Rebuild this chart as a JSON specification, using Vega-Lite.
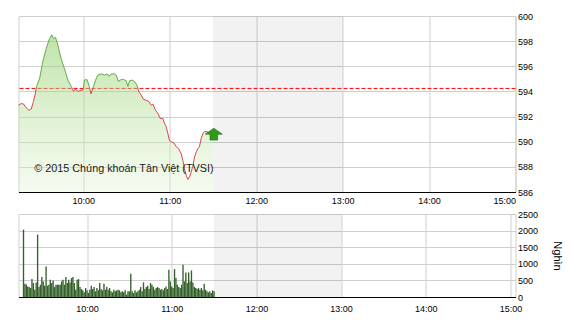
{
  "$schema": "https://vega.github.io/schema/vega-lite/v6.json",
  "padding": {"left": 15.5, "top": 11, "right": 0, "bottom": 0},
  "background": "white",
  "spacing": 22,
  "bounds": "flush",
  "config": {
    "view": {"stroke": "#cfcfcf", "strokeWidth": 1},
    "axis": {
      "labelFont": "Liberation Sans",
      "labelFontSize": 9,
      "labelColor": "#000000",
      "labelOverlap": false,
      "gridColor": "#cfcfcf",
      "gridWidth": 1,
      "ticks": false,
      "tickSize": 0,
      "domain": false,
      "titleFont": "Liberation Sans",
      "titleFontWeight": "normal",
      "titleColor": "#000000"
    }
  },
  "datasets": {
    "price": [
      {"t": "09:15:00", "price": 592.9, "seg": 1, "side": "below"},
      {"t": "09:16:54", "price": 593.04, "seg": 1, "side": "below"},
      {"t": "09:18:30", "price": 593.0, "seg": 1, "side": "below"},
      {"t": "09:20:18", "price": 592.7, "seg": 1, "side": "below"},
      {"t": "09:22:12", "price": 592.5, "seg": 1, "side": "below"},
      {"t": "09:23:48", "price": 592.6, "seg": 1, "side": "below"},
      {"t": "09:25:24", "price": 593.2, "seg": 1, "side": "below"},
      {"t": "09:26:36", "price": 593.8, "seg": 1, "side": "below"},
      {"t": "09:27:20", "price": 594.24, "seg": 1, "side": "below"},
      {"t": "09:27:20", "price": 594.24, "seg": 2, "side": "above"},
      {"t": "09:27:48", "price": 594.5, "seg": 2, "side": "above"},
      {"t": "09:29:36", "price": 595.0, "seg": 2, "side": "above"},
      {"t": "09:31:54", "price": 596.4, "seg": 2, "side": "above"},
      {"t": "09:34:12", "price": 597.4, "seg": 2, "side": "above"},
      {"t": "09:36:30", "price": 598.2, "seg": 2, "side": "above"},
      {"t": "09:38:12", "price": 598.5, "seg": 2, "side": "above"},
      {"t": "09:39:18", "price": 598.2, "seg": 2, "side": "above"},
      {"t": "09:40:42", "price": 598.3, "seg": 2, "side": "above"},
      {"t": "09:42:18", "price": 597.7, "seg": 2, "side": "above"},
      {"t": "09:44:36", "price": 596.6, "seg": 2, "side": "above"},
      {"t": "09:46:54", "price": 595.8, "seg": 2, "side": "above"},
      {"t": "09:49:18", "price": 594.9, "seg": 2, "side": "above"},
      {"t": "09:51:36", "price": 594.4, "seg": 2, "side": "above"},
      {"t": "09:52:20", "price": 594.24, "seg": 2, "side": "above"},
      {"t": "09:52:20", "price": 594.24, "seg": 3, "side": "below"},
      {"t": "09:53:12", "price": 594.0, "seg": 3, "side": "below"},
      {"t": "09:54:36", "price": 594.2, "seg": 3, "side": "below"},
      {"t": "09:56:12", "price": 594.0, "seg": 3, "side": "below"},
      {"t": "09:58:30", "price": 594.1, "seg": 3, "side": "below"},
      {"t": "09:59:42", "price": 594.1, "seg": 3, "side": "below"},
      {"t": "10:00:00", "price": 594.24, "seg": 3, "side": "below"},
      {"t": "10:00:00", "price": 594.24, "seg": 4, "side": "above"},
      {"t": "10:00:48", "price": 594.9, "seg": 4, "side": "above"},
      {"t": "10:02:30", "price": 594.95, "seg": 4, "side": "above"},
      {"t": "10:03:54", "price": 594.5, "seg": 4, "side": "above"},
      {"t": "10:04:25", "price": 594.24, "seg": 4, "side": "above"},
      {"t": "10:04:25", "price": 594.24, "seg": 5, "side": "below"},
      {"t": "10:05:18", "price": 593.8, "seg": 5, "side": "below"},
      {"t": "10:06:30", "price": 594.24, "seg": 5, "side": "below"},
      {"t": "10:06:30", "price": 594.24, "seg": 6, "side": "above"},
      {"t": "10:07:06", "price": 594.4, "seg": 6, "side": "above"},
      {"t": "10:08:30", "price": 594.9, "seg": 6, "side": "above"},
      {"t": "10:10:06", "price": 595.3, "seg": 6, "side": "above"},
      {"t": "10:12:24", "price": 595.4, "seg": 6, "side": "above"},
      {"t": "10:14:42", "price": 595.3, "seg": 6, "side": "above"},
      {"t": "10:16:24", "price": 595.4, "seg": 6, "side": "above"},
      {"t": "10:17:48", "price": 595.2, "seg": 6, "side": "above"},
      {"t": "10:19:24", "price": 595.4, "seg": 6, "side": "above"},
      {"t": "10:21:36", "price": 595.4, "seg": 6, "side": "above"},
      {"t": "10:22:48", "price": 595.3, "seg": 6, "side": "above"},
      {"t": "10:24:24", "price": 594.8, "seg": 6, "side": "above"},
      {"t": "10:26:18", "price": 594.95, "seg": 6, "side": "above"},
      {"t": "10:27:54", "price": 594.95, "seg": 6, "side": "above"},
      {"t": "10:29:48", "price": 594.85, "seg": 6, "side": "above"},
      {"t": "10:30:54", "price": 594.4, "seg": 6, "side": "above"},
      {"t": "10:32:06", "price": 594.85, "seg": 6, "side": "above"},
      {"t": "10:33:54", "price": 594.9, "seg": 6, "side": "above"},
      {"t": "10:35:30", "price": 594.8, "seg": 6, "side": "above"},
      {"t": "10:37:12", "price": 594.5, "seg": 6, "side": "above"},
      {"t": "10:37:55", "price": 594.24, "seg": 6, "side": "above"},
      {"t": "10:37:55", "price": 594.24, "seg": 7, "side": "below"},
      {"t": "10:38:36", "price": 593.97, "seg": 7, "side": "below"},
      {"t": "10:40:12", "price": 593.7, "seg": 7, "side": "below"},
      {"t": "10:41:48", "price": 593.36, "seg": 7, "side": "below"},
      {"t": "10:43:36", "price": 593.3, "seg": 7, "side": "below"},
      {"t": "10:45:30", "price": 593.2, "seg": 7, "side": "below"},
      {"t": "10:47:06", "price": 592.9, "seg": 7, "side": "below"},
      {"t": "10:48:18", "price": 593.0, "seg": 7, "side": "below"},
      {"t": "10:50:06", "price": 592.5, "seg": 7, "side": "below"},
      {"t": "10:51:48", "price": 592.25, "seg": 7, "side": "below"},
      {"t": "10:53:24", "price": 591.85, "seg": 7, "side": "below"},
      {"t": "10:55:12", "price": 591.85, "seg": 7, "side": "below"},
      {"t": "10:56:24", "price": 591.45, "seg": 7, "side": "below"},
      {"t": "10:57:30", "price": 591.2, "seg": 7, "side": "below"},
      {"t": "10:58:42", "price": 590.65, "seg": 7, "side": "below"},
      {"t": "10:59:48", "price": 590.1, "seg": 7, "side": "below"},
      {"t": "11:01:00", "price": 590.0, "seg": 7, "side": "below"},
      {"t": "11:02:54", "price": 589.9, "seg": 7, "side": "below"},
      {"t": "11:04:30", "price": 589.6, "seg": 7, "side": "below"},
      {"t": "11:06:06", "price": 589.45, "seg": 7, "side": "below"},
      {"t": "11:07:54", "price": 589.06, "seg": 7, "side": "below"},
      {"t": "11:09:06", "price": 588.5, "seg": 7, "side": "below"},
      {"t": "11:10:12", "price": 587.86, "seg": 7, "side": "below"},
      {"t": "11:11:24", "price": 587.33, "seg": 7, "side": "below"},
      {"t": "11:12:36", "price": 587.0, "seg": 7, "side": "below"},
      {"t": "11:13:42", "price": 587.2, "seg": 7, "side": "below"},
      {"t": "11:14:54", "price": 587.6, "seg": 7, "side": "below"},
      {"t": "11:16:06", "price": 588.1, "seg": 7, "side": "below"},
      {"t": "11:17:12", "price": 588.8, "seg": 7, "side": "below"},
      {"t": "11:18:24", "price": 589.2, "seg": 7, "side": "below"},
      {"t": "11:19:30", "price": 589.46, "seg": 7, "side": "below"},
      {"t": "11:20:36", "price": 589.6, "seg": 7, "side": "below"},
      {"t": "11:21:48", "price": 590.25, "seg": 7, "side": "below"},
      {"t": "11:23:00", "price": 590.65, "seg": 7, "side": "below"},
      {"t": "11:24:06", "price": 590.8, "seg": 7, "side": "below"},
      {"t": "11:26:00", "price": 590.8, "seg": 7, "side": "below"},
      {"t": "11:27:36", "price": 590.7, "seg": 7, "side": "below"},
      {"t": "11:29:54", "price": 590.65, "seg": 7, "side": "below"}
    ],
    "vol": [
      {"t": "09:15:00", "v": 2030}, {"t": "09:16:00", "v": 400}, {"t": "09:17:00", "v": 380}, {"t": "09:18:00", "v": 320},
      {"t": "09:19:00", "v": 300}, {"t": "09:20:00", "v": 270}, {"t": "09:21:00", "v": 540}, {"t": "09:22:00", "v": 420},
      {"t": "09:23:00", "v": 220}, {"t": "09:24:00", "v": 440}, {"t": "09:25:00", "v": 1880}, {"t": "09:26:00", "v": 300},
      {"t": "09:27:00", "v": 370}, {"t": "09:28:00", "v": 600}, {"t": "09:29:00", "v": 470}, {"t": "09:30:00", "v": 340},
      {"t": "09:31:00", "v": 920}, {"t": "09:32:00", "v": 340}, {"t": "09:33:00", "v": 370}, {"t": "09:34:00", "v": 520},
      {"t": "09:35:00", "v": 420}, {"t": "09:36:00", "v": 500}, {"t": "09:37:00", "v": 300}, {"t": "09:38:00", "v": 370},
      {"t": "09:39:00", "v": 370}, {"t": "09:40:00", "v": 370}, {"t": "09:41:00", "v": 370}, {"t": "09:42:00", "v": 470},
      {"t": "09:43:00", "v": 520}, {"t": "09:44:00", "v": 370}, {"t": "09:45:00", "v": 600}, {"t": "09:46:00", "v": 420},
      {"t": "09:47:00", "v": 520}, {"t": "09:48:00", "v": 440}, {"t": "09:49:00", "v": 570}, {"t": "09:50:00", "v": 600},
      {"t": "09:51:00", "v": 420}, {"t": "09:52:00", "v": 220}, {"t": "09:53:00", "v": 520}, {"t": "09:54:00", "v": 540},
      {"t": "09:55:00", "v": 300}, {"t": "09:56:00", "v": 240}, {"t": "09:57:00", "v": 200}, {"t": "09:58:00", "v": 140},
      {"t": "09:59:00", "v": 270}, {"t": "10:00:00", "v": 200}, {"t": "10:01:00", "v": 120}, {"t": "10:02:00", "v": 220},
      {"t": "10:03:00", "v": 340}, {"t": "10:04:00", "v": 240}, {"t": "10:05:00", "v": 300}, {"t": "10:06:00", "v": 170},
      {"t": "10:07:00", "v": 270}, {"t": "10:08:00", "v": 200}, {"t": "10:09:00", "v": 420}, {"t": "10:10:00", "v": 240},
      {"t": "10:11:00", "v": 200}, {"t": "10:12:00", "v": 400}, {"t": "10:13:00", "v": 220}, {"t": "10:14:00", "v": 300},
      {"t": "10:15:00", "v": 220}, {"t": "10:16:00", "v": 270}, {"t": "10:17:00", "v": 170}, {"t": "10:18:00", "v": 140},
      {"t": "10:19:00", "v": 220}, {"t": "10:20:00", "v": 170}, {"t": "10:21:00", "v": 200}, {"t": "10:22:00", "v": 220},
      {"t": "10:23:00", "v": 200}, {"t": "10:24:00", "v": 140}, {"t": "10:25:00", "v": 170}, {"t": "10:26:00", "v": 140},
      {"t": "10:27:00", "v": 200}, {"t": "10:28:00", "v": 70}, {"t": "10:29:00", "v": 170}, {"t": "10:30:00", "v": 170},
      {"t": "10:31:00", "v": 700}, {"t": "10:32:00", "v": 170}, {"t": "10:33:00", "v": 120}, {"t": "10:34:00", "v": 200},
      {"t": "10:35:00", "v": 140}, {"t": "10:36:00", "v": 170}, {"t": "10:37:00", "v": 220}, {"t": "10:38:00", "v": 300},
      {"t": "10:39:00", "v": 170}, {"t": "10:40:00", "v": 440}, {"t": "10:41:00", "v": 240}, {"t": "10:42:00", "v": 300},
      {"t": "10:43:00", "v": 340}, {"t": "10:44:00", "v": 240}, {"t": "10:45:00", "v": 420}, {"t": "10:46:00", "v": 370},
      {"t": "10:47:00", "v": 300}, {"t": "10:48:00", "v": 220}, {"t": "10:49:00", "v": 270}, {"t": "10:50:00", "v": 300},
      {"t": "10:51:00", "v": 270}, {"t": "10:52:00", "v": 220}, {"t": "10:53:00", "v": 240}, {"t": "10:54:00", "v": 200},
      {"t": "10:55:00", "v": 270}, {"t": "10:56:00", "v": 320}, {"t": "10:57:00", "v": 240}, {"t": "10:58:00", "v": 820},
      {"t": "10:59:00", "v": 470}, {"t": "11:00:00", "v": 320}, {"t": "11:01:00", "v": 270}, {"t": "11:02:00", "v": 840},
      {"t": "11:03:00", "v": 570}, {"t": "11:04:00", "v": 370}, {"t": "11:05:00", "v": 300}, {"t": "11:06:00", "v": 270},
      {"t": "11:07:00", "v": 370}, {"t": "11:08:00", "v": 970}, {"t": "11:09:00", "v": 470}, {"t": "11:10:00", "v": 740},
      {"t": "11:11:00", "v": 420}, {"t": "11:12:00", "v": 740}, {"t": "11:13:00", "v": 470}, {"t": "11:14:00", "v": 800},
      {"t": "11:15:00", "v": 440}, {"t": "11:16:00", "v": 300}, {"t": "11:17:00", "v": 270}, {"t": "11:18:00", "v": 240},
      {"t": "11:19:00", "v": 270}, {"t": "11:20:00", "v": 220}, {"t": "11:21:00", "v": 270}, {"t": "11:22:00", "v": 200},
      {"t": "11:23:00", "v": 400}, {"t": "11:24:00", "v": 220}, {"t": "11:25:00", "v": 170}, {"t": "11:26:00", "v": 140},
      {"t": "11:27:00", "v": 170}, {"t": "11:28:00", "v": 120}, {"t": "11:29:00", "v": 200}, {"t": "11:30:00", "v": 170}
    ]
  },
  "vconcat": [
    {
      "width": 497,
      "height": 176,
      "data": {"name": "price", "format": {"parse": {"t": "date:'%H:%M:%S'"}}},
      "encoding": {
        "y": {
          "field": "price",
          "type": "quantitative",
          "scale": {"domain": [586, 600], "zero": false, "nice": false},
          "axis": {
            "orient": "right",
            "title": null,
            "values": [586, 588, 590, 592, 594, 596, 598, 600],
            "labelPadding": 2,
            "labelOverlap": false,
            "grid": true
          }
        }
      },
      "layer": [
        {
          "data": {"values": [{"label": "lunch"}]},
          "mark": {"type": "rect", "fill": "#000000", "opacity": 0.05},
          "encoding": {
            "x": {
              "datum": {"year": 1900, "month": 1, "date": 1, "hours": 11, "minutes": 30},
              "type": "temporal",
              "scale": {"domain": [
                {"year": 1900, "month": 1, "date": 1, "hours": 9, "minutes": 15},
                {"year": 1900, "month": 1, "date": 1, "hours": 15, "minutes": 0}
              ]},
              "axis": {
                "title": null,
                "format": "%H:%M",
                "values": [
                  {"year": 1900, "month": 1, "date": 1, "hours": 10},
                  {"year": 1900, "month": 1, "date": 1, "hours": 11},
                  {"year": 1900, "month": 1, "date": 1, "hours": 12},
                  {"year": 1900, "month": 1, "date": 1, "hours": 13},
                  {"year": 1900, "month": 1, "date": 1, "hours": 14},
                  {"year": 1900, "month": 1, "date": 1, "hours": 15}
                ],
                "domain": true,
                "domainColor": "#000000",
                "domainWidth": 1,
                "labelFlush": true,
                "labelPadding": 4,
                "grid": true
              }
            },
            "x2": {"datum": {"year": 1900, "month": 1, "date": 1, "hours": 13, "minutes": 0}},
            "y": null
          }
        },
        {
          "data": {"values": [{"price": 594.24}]},
          "mark": {"type": "rule", "color": "#ff0000", "strokeWidth": 1, "strokeDash": [4, 2]},
          "encoding": {}
        },
        {
          "mark": {
            "type": "area",
            "fill": {
              "gradient": "linear",
              "x1": 0, "y1": 0, "x2": 0, "y2": 1,
              "stops": [
                {"offset": 0, "color": "rgba(140,204,100,0.55)"},
                {"offset": 1, "color": "rgba(225,242,210,0.35)"}
              ]
            }
          },
          "encoding": {
            "x": {"field": "t", "type": "temporal"},
            "y2": {"datum": 586}
          }
        },
        {
          "mark": {"type": "line", "strokeWidth": 1},
          "encoding": {
            "x": {"field": "t", "type": "temporal"},
            "detail": {"field": "seg", "type": "nominal"},
            "color": {
              "field": "side",
              "type": "nominal",
              "scale": {"domain": ["above", "below"], "range": ["#62ad45", "#d9474a"]},
              "legend": null
            }
          }
        },
        {
          "data": {"values": [{"t": "09:26:00", "price": 587.8, "label": "© 2015 Chúng khoán Tân Việt (TVSI)"}], "format": {"parse": {"t": "date:'%H:%M:%S'"}}},
          "mark": {"type": "text", "align": "left", "baseline": "middle", "font": "Liberation Sans", "fontSize": 10.8, "color": "#1a1a1a"},
          "encoding": {
            "x": {"field": "t", "type": "temporal"},
            "text": {"field": "label"}
          }
        },
        {
          "data": {"values": [{"t": "11:30:36", "price": 590.6}], "format": {"parse": {"t": "date:'%H:%M:%S'"}}},
          "mark": {
            "type": "point",
            "shape": "M0,-0.7 L1,0 L0.45,0 L0.45,0.7 L-0.45,0.7 L-0.45,0 L-1,0 Z",
            "size": 289,
            "filled": true,
            "fill": "#2f9a1c",
            "stroke": "#1d6a10",
            "strokeWidth": 0.6,
            "opacity": 1
          },
          "encoding": {
            "x": {"field": "t", "type": "temporal"}
          }
        }
      ]
    },
    {
      "width": 497,
      "height": 83,
      "data": {"name": "vol", "format": {"parse": {"t": "date:'%H:%M:%S'"}}},
      "layer": [
        {
          "data": {"values": [{"label": "lunch"}]},
          "mark": {"type": "rect", "fill": "#000000", "opacity": 0.05},
          "encoding": {
            "x": {
              "datum": {"year": 1900, "month": 1, "date": 1, "hours": 11, "minutes": 30},
              "type": "temporal",
              "scale": {"domain": [
                {"year": 1900, "month": 1, "date": 1, "hours": 9, "minutes": 15},
                {"year": 1900, "month": 1, "date": 1, "hours": 15, "minutes": 0}
              ]},
              "axis": {
                "title": null,
                "format": "%H:%M",
                "values": [
                  {"year": 1900, "month": 1, "date": 1, "hours": 10},
                  {"year": 1900, "month": 1, "date": 1, "hours": 11},
                  {"year": 1900, "month": 1, "date": 1, "hours": 12},
                  {"year": 1900, "month": 1, "date": 1, "hours": 13},
                  {"year": 1900, "month": 1, "date": 1, "hours": 14},
                  {"year": 1900, "month": 1, "date": 1, "hours": 15}
                ],
                "domain": true,
                "domainColor": "#000000",
                "domainWidth": 1,
                "labelFlush": true,
                "labelPadding": 7,
                "grid": true
              }
            },
            "x2": {"datum": {"year": 1900, "month": 1, "date": 1, "hours": 13, "minutes": 0}}
          }
        },
        {
          "mark": {"type": "bar", "color": "#34602a", "size": 1.35},
          "encoding": {
            "x": {"field": "t", "type": "temporal"},
            "y": {
              "field": "v",
              "type": "quantitative",
              "scale": {"domain": [0, 2500], "nice": false},
              "axis": {
                "orient": "right",
                "title": "Nghìn",
                "titleFontSize": 11,
                "titlePadding": 14,
                "format": "d",
                "values": [0, 500, 1000, 1500, 2000, 2500],
                "labelPadding": 2,
                "grid": true
              }
            }
          }
        }
      ]
    }
  ]
}
